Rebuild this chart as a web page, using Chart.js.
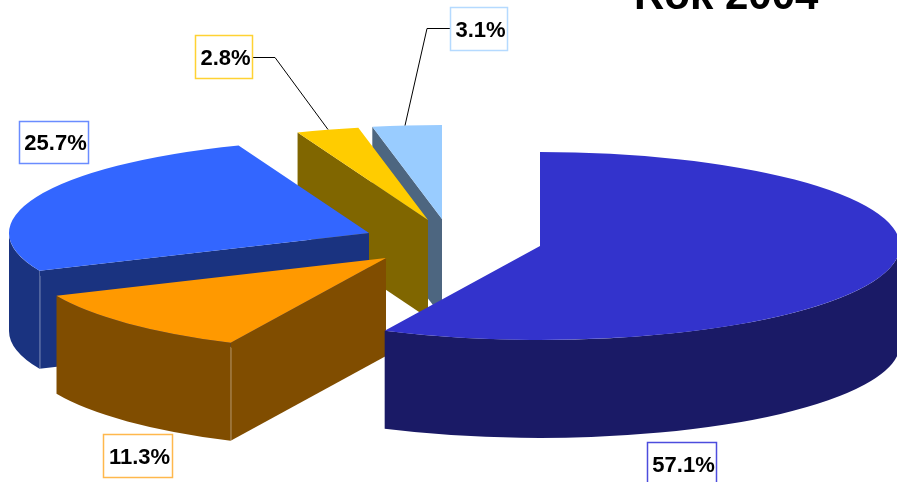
<!DOCTYPE html>
<html>
<head>
<meta charset="utf-8">
<title>Rok 2004</title>
<script src="https://cdn.jsdelivr.net/npm/chart.js@4"></script>
<style>
    html, body { margin: 0; padding: 0; background: #fff; overflow: hidden; }
    canvas { display: block; }
</style>
</head>
<body>
<canvas id="pieChart" width="897" height="482"></canvas>
<script>
// Data from the picture, clockwise from 12 o'clock
const titleText = 'Rok 2004';
const shares = [57.1, 11.3, 25.7, 2.8, 3.1];
const topColors = ['#3333CC', '#FF9900', '#3366FF', '#FFCC00', '#99CCFF'];
const wallColors = ['#1A1A66', '#804D00', '#1A3380', '#806600', '#4D6680'];

// Look of the fake 3D pie
const pieRadius = 360;
const squash = 0.261;
const wallDepth = 98;
const sliceCentres = [[540, 246], [386, 258], [369, 233], [428, 220], [442, 219]];
const paintOrder = [4, 3, 2, 1, 0];

// Label boxes [left, top, width, height]
const labelBoxes = [[647, 442, 69, 44], [103, 434, 69, 43], [19, 121, 69, 42], [195, 35, 57, 43], [450, 7, 57, 43]];
const labelBorders = ['#4D4DDD', '#FFB84D', '#6A8CFF', '#FFD233', '#B5DAFF'];
const leaders = [
    [[252, 57], [275, 57], [328, 129]],
    [[450, 28], [427, 28], [405, 125]]
];

// Side faces of one slice: rim plus the cut faces that look at the viewer
function drawWalls(ctx, arc, i) {
    const { startAngle: s, endAngle: e } = arc.getProps(['startAngle', 'endAngle']);
    const [cx, cy] = sliceCentres[i];
    const ry = pieRadius * squash;
    const edge = a => [cx + Math.cos(a) * pieRadius, cy + Math.sin(a) * ry];

    ctx.fillStyle = wallColors[i];

    const from = Math.max(s, 0);
    const to = Math.min(e, Math.PI);
    if (to > from) {
        ctx.beginPath();
        ctx.ellipse(cx, cy, pieRadius, ry, 0, from, to);
        ctx.ellipse(cx, cy + wallDepth, pieRadius, ry, 0, to, from, true);
        ctx.closePath();
        ctx.fill();
    }

    const cutFace = a => {
        const [x, y] = edge(a);
        ctx.beginPath();
        ctx.moveTo(cx, cy);
        ctx.lineTo(x, y);
        ctx.lineTo(x, y + wallDepth);
        ctx.lineTo(cx, cy + wallDepth);
        ctx.closePath();
        ctx.fill();
    };
    if (Math.cos(s) < -1e-6) cutFace(s);
    if (Math.cos(e) > 1e-6) cutFace(e);

    // thin light seam where the cut face meets the rim
    if (Math.cos(s) < -1e-6 && s > 0 && s < Math.PI) {
        const [x, y] = edge(s);
        ctx.strokeStyle = 'rgba(255,255,255,0.2)';
        ctx.lineWidth = 1;
        ctx.beginPath();
        ctx.moveTo(Math.round(x) + 0.5, y + 5);
        ctx.lineTo(Math.round(x) + 0.5, y + wallDepth);
        ctx.stroke();
    }
}

const pie3d = {
    id: 'pie3d',
    // Chart.js keeps the arcs, only the painting is done here so slices can overlap
    beforeDatasetsDraw(chart) {
        const ctx = chart.ctx;
        const arcs = chart.getDatasetMeta(0).data;
        paintOrder.forEach(i => {
            const arc = arcs[i];
            drawWalls(ctx, arc, i);
            ctx.save();
            ctx.translate(sliceCentres[i][0], sliceCentres[i][1]);
            ctx.scale(1, squash);
            ctx.translate(-arc.x, -arc.y);
            arc.draw(ctx);
            ctx.restore();
        });
        return false;
    },
    afterDraw(chart) {
        const ctx = chart.ctx;
        ctx.save();

        ctx.fillStyle = '#000';
        ctx.font = 'bold 42px "Liberation Sans"';
        ctx.textAlign = 'left';
        ctx.textBaseline = 'alphabetic';
        ctx.fillText(titleText, 634, 9);

        ctx.strokeStyle = '#000';
        ctx.lineWidth = 1;
        leaders.forEach(line => {
            ctx.beginPath();
            line.forEach(([x, y], n) => n ? ctx.lineTo(x, y + 0.5) : ctx.moveTo(x, y + 0.5));
            ctx.stroke();
        });

        ctx.font = 'bold 22px "Liberation Sans"';
        ctx.textAlign = 'center';
        ctx.textBaseline = 'middle';
        shares.forEach((v, i) => {
            const [x, y, w, h] = labelBoxes[i];
            ctx.fillStyle = '#fff';
            ctx.fillRect(x, y, w, h);
            ctx.strokeStyle = labelBorders[i];
            ctx.lineWidth = 1.5;
            ctx.strokeRect(x + 0.5, y + 0.5, w, h);
            ctx.fillStyle = '#000';
            ctx.fillText(v.toFixed(1) + '%', x + w / 2 + 2, y + h / 2 + 2);
        });
        ctx.restore();
    }
};

new Chart(document.getElementById('pieChart'), {
    type: 'pie',
    data: {
        labels: shares.map(v => v.toFixed(1) + '%'),
        datasets: [{
            data: shares,
            backgroundColor: topColors,
            borderWidth: 0,
            radius: pieRadius
        }]
    },
    options: {
        responsive: false,
        animation: false,
        devicePixelRatio: 1,
        events: [],
        plugins: {
            legend: { display: false },
            tooltip: { enabled: false }
        }
    },
    plugins: [pie3d]
});
</script>
</body>
</html>
